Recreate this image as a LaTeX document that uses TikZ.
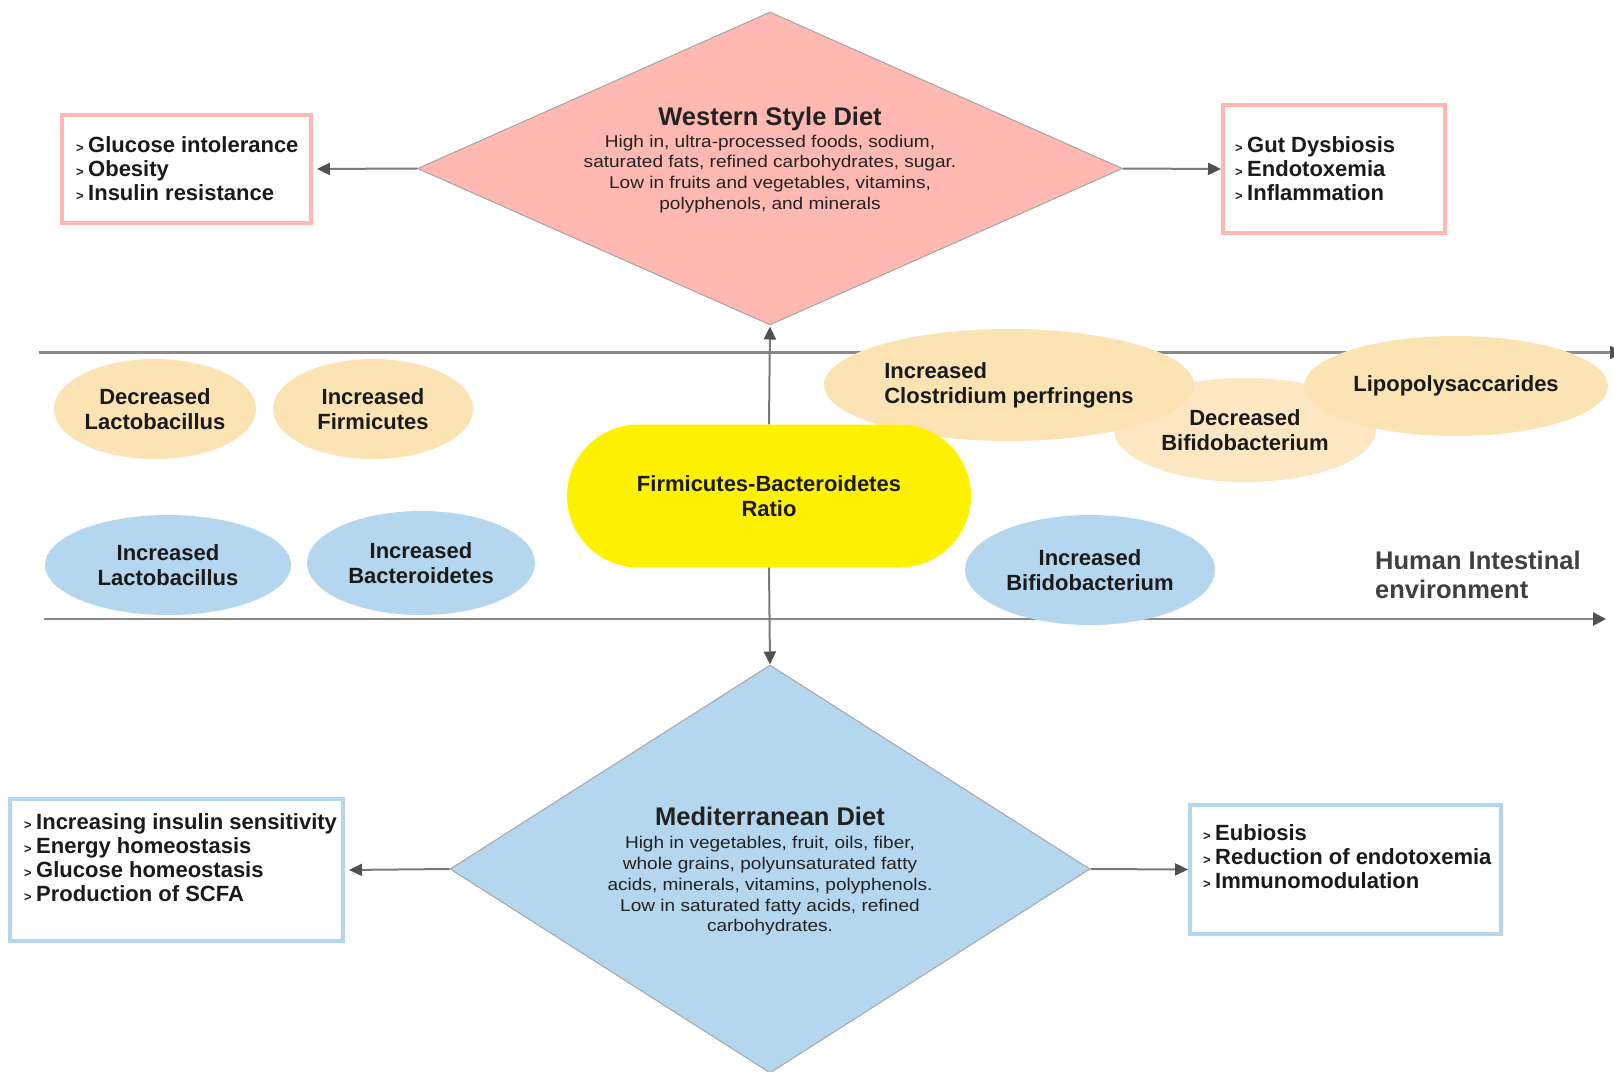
\documentclass[tikz,border=0pt]{standalone}
\usepackage{fontspec}
\setmainfont{Liberation Sans}
\newfontfamily\bodyfont[FakeStretch=1.12]{Liberation Sans}
\usetikzlibrary{shapes.geometric,shapes.misc,arrows.meta}
\definecolor{pinkfill}{HTML}{FFB8B2}
\definecolor{pinkline}{HTML}{FFB8B4}
\definecolor{bluefill}{HTML}{B4D6EE}
\definecolor{tanfill}{HTML}{FBE3B4}
\definecolor{tanlight}{HTML}{FCE7C2}
\definecolor{arrowgray}{HTML}{7A7A7A}
\definecolor{headgray}{HTML}{505050}
\definecolor{linegray}{HTML}{8A8A8A}
\definecolor{txt}{HTML}{1A1A1A}
\definecolor{bodytxt}{HTML}{222222}
\definecolor{envtxt}{HTML}{404040}
\newcommand\lbul{\makebox[12pt][l]{\fontsize{13}{13}\selectfont >}}
\tikzset{
  hline/.style={draw=linegray, line width=2.6, -{Triangle[length=13,width=13,color=headgray]}},
  conn/.style={draw=arrowgray, line width=2, -{Triangle[length=13,width=12,color=headgray]}},
  dia/.style={shape=diamond, draw=gray!70, line width=1, inner sep=0, shape aspect=2},
  listbox/.style={shape=rectangle, draw, line width=4, inner sep=0},
  listline/.style={anchor=base west, inner sep=0, text=txt, font=\fontsize{22}{24}\selectfont\bfseries},
  titleline/.style={anchor=base, inner sep=0, text=bodytxt, font=\fontsize{25.5}{27}\selectfont\bfseries},
  bodyline/.style={anchor=base, inner sep=0, text=bodytxt, font=\bodyfont\fontsize{17}{21}\selectfont},
  bug/.style={shape=ellipse, inner sep=0, text=txt, align=center, font=\fontsize{22}{25}\selectfont\bfseries},
}
\begin{document}
\begin{tikzpicture}[x=1pt,y=-1pt]
\useasboundingbox (0,0) rectangle (1614,1071);
\clip (0,0) rectangle (1614,1071);

% horizontal environment lines
\coordinate (l1a) at (39,352.5);
\coordinate (l1b) at (1623,352.5);
\coordinate (l2a) at (44,619);
\coordinate (l2b) at (1606,619);
\draw[hline] (l1a) -- (l1b);
\draw[hline] (l2a) -- (l2b);

% tan ellipses
\node[bug, fill=tanfill, minimum width=202, minimum height=100] (declacto) at (155,409) {Decreased\\Lactobacillus};
\node[bug, fill=tanfill, minimum width=200, minimum height=100] (incfirm) at (373,409) {Increased\\Firmicutes};
\node[bug, fill=tanlight, minimum width=262, minimum height=104] (decbifi) at (1245,430) {Decreased\\Bifidobacterium};
\node[bug, fill=tanfill, minimum width=370, minimum height=112, align=left] (clost) at (1009,385) {Increased\\Clostridium perfringens};
\node[bug, fill=tanfill, minimum width=304, minimum height=100] (lps) at (1456,386) {Lipopolysaccarides};

% blue ellipses
\node[bug, fill=bluefill, minimum width=246, minimum height=100] (inclacto) at (168,565) {Increased\\Lactobacillus};
\node[bug, fill=bluefill, minimum width=228, minimum height=104] (incbact) at (421,563) {Increased\\Bacteroidetes};
\node[bug, fill=bluefill, minimum width=250, minimum height=110] (incbifi) at (1090,570) {Increased\\Bifidobacterium};

% environment label
\node[anchor=west, inner sep=0, align=left, text=envtxt, font=\fontsize{25.5}{29}\selectfont\bfseries] (env) at (1375,575) {Human Intestinal\\environment};

% ratio
\node[shape=rounded rectangle, fill=yellow, inner sep=0, minimum width=404, minimum height=143, align=center, text=txt, font=\fontsize{22}{25}\selectfont\bfseries] (ratio) at (769,496) {Firmicutes-Bacteroidetes\\Ratio};

% diamonds
\node[dia, fill=pinkfill, minimum width=705, minimum height=313] (wd) at (770,168.5) {};
\node[dia, fill=bluefill, minimum width=640, minimum height=408] (md) at (770,869) {};

% western text
\node[titleline] (wt0) at (770,125) {Western Style Diet};
\node[bodyline] (wt1) at (770,147) {High in, ultra-processed foods, sodium,};
\node[bodyline] (wt2) at (770,167) {saturated fats, refined carbohydrates, sugar.};
\node[bodyline] (wt3) at (770,188) {Low in fruits and vegetables, vitamins,};
\node[bodyline] (wt4) at (770,209) {polyphenols, and minerals};

% mediterranean text
\node[titleline] (mt0) at (770,825) {Mediterranean Diet};
\node[bodyline] (mt1) at (770,848) {High in vegetables, fruit, oils, fiber,};
\node[bodyline] (mt2) at (770,869) {whole grains, polyunsaturated fatty};
\node[bodyline] (mt3) at (770,890) {acids, minerals, vitamins, polyphenols.};
\node[bodyline] (mt4) at (770,911) {Low in saturated fatty acids, refined};
\node[bodyline] (mt5) at (770,931) {carbohydrates.};

% boxes
\node[listbox, draw=pinkline, minimum width=249, minimum height=108] (wl) at (186.5,169) {};
\node[listbox, draw=pinkline, minimum width=222, minimum height=128] (wr) at (1334,169) {};
\node[listbox, draw=bluefill, minimum width=333, minimum height=142] (ml) at (176.5,870) {};
\node[listbox, draw=bluefill, minimum width=311, minimum height=129] (mr) at (1345.5,869.5) {};

\node[listline] (wl1) at (76,152) {\lbul Glucose intolerance};
\node[listline] (wl2) at (76,176) {\lbul Obesity};
\node[listline] (wl3) at (76,200) {\lbul Insulin resistance};

\node[listline] (wr1) at (1235,152) {\lbul Gut Dysbiosis};
\node[listline] (wr2) at (1235,176) {\lbul Endotoxemia};
\node[listline] (wr3) at (1235,200) {\lbul Inflammation};

\node[listline] (ml1) at (24,829) {\lbul Increasing insulin sensitivity};
\node[listline] (ml2) at (24,853) {\lbul Energy homeostasis};
\node[listline] (ml3) at (24,877) {\lbul Glucose homeostasis};
\node[listline] (ml4) at (24,901) {\lbul Production of SCFA};

\node[listline] (mr1) at (1203,840) {\lbul Eubiosis};
\node[listline] (mr2) at (1203,864) {\lbul Reduction of endotoxemia};
\node[listline] (mr3) at (1203,888) {\lbul Immunomodulation};

% connectors
\draw[conn, shorten >=4] (wd.west) -- (wl.east);
\draw[conn] (wd.east) -- (wr.west);
\draw[conn, shorten >=4] (md.west) -- (ml.east);
\draw[conn] (md.east) -- (mr.west);
\draw[conn, shorten >=1] (ratio.north) -- (wd.south);
\draw[conn] (ratio.south) -- (md.north);
\end{tikzpicture}
\end{document}
